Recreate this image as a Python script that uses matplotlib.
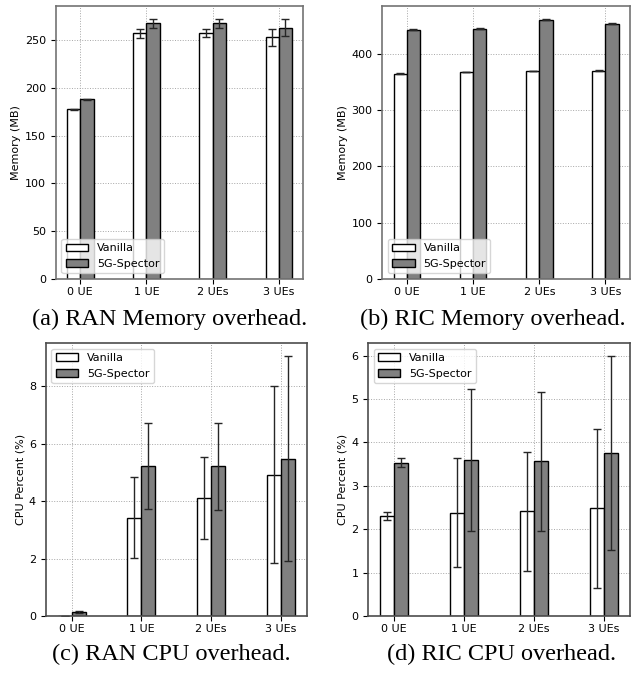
import numpy as np
import matplotlib.pyplot as plt

labels = ["0 UE", "1 UE", "2 UEs", "3 UEs"]

# RAN memory (MB)
ran_mem_van = [177.5, 256.7, 257.0, 252.8]
ran_mem_van_err = [0.4, 4.8, 4.0, 9.0]
ran_mem_spc = [187.8, 267.2, 267.2, 262.6]
ran_mem_spc_err = [0.4, 4.5, 4.5, 9.0]

# RIC memory (MB)
ric_mem_van = [364.4, 367.4, 369.2, 369.8]
ric_mem_van_err = [0.8, 0.8, 0.8, 0.8]
ric_mem_spc = [442.8, 444.0, 460.6, 452.9]
ric_mem_spc_err = [0.8, 0.8, 0.8, 0.8]

# RAN CPU (%)
ran_cpu_van = [0.01, 3.43, 4.12, 4.93]
ran_cpu_van_err = [0.005, 1.41, 1.42, 3.1]
ran_cpu_spc = [0.15, 5.22, 5.21, 5.48]
ran_cpu_spc_err = [0.04, 1.49, 1.52, 3.58]

# RIC CPU (%)
ric_cpu_van = [2.31, 2.38, 2.41, 2.48]
ric_cpu_van_err = [0.09, 1.26, 1.37, 1.83]
ric_cpu_spc = [3.53, 3.60, 3.56, 3.75]
ric_cpu_spc_err = [0.1, 1.64, 1.61, 2.24]

fig = plt.figure(figsize=(6.39, 6.73), dpi=100)

H = 0.4056
panels = [
    ([0.0873, 0.5854, 0.3873, H], ran_mem_van, ran_mem_van_err, ran_mem_spc, ran_mem_spc_err,
     "Memory (MB)", "lower left", "(a) RAN Memory overhead.", (0.266, 0.526), "0.45"),
    ([0.5983, 0.5854, 0.3876, H], ric_mem_van, ric_mem_van_err, ric_mem_spc, ric_mem_spc_err,
     "Memory (MB)", "lower left", "(b) RIC Memory overhead.", (0.772, 0.526), "0.45"),
    ([0.0716, 0.0847, 0.4084, H], ran_cpu_van, ran_cpu_van_err, ran_cpu_spc, ran_cpu_spc_err,
     "CPU Percent (%)", "upper left", "(c) RAN CPU overhead.", (0.268, 0.028), "0.3"),
    ([0.5763, 0.0847, 0.4096, H], ric_cpu_van, ric_cpu_van_err, ric_cpu_spc, ric_cpu_spc_err,
     "CPU Percent (%)", "upper left", "(d) RIC CPU overhead.", (0.785, 0.028), "0.3"),
]

x = np.arange(len(labels))
w = 0.2

for rect, van, van_err, spc, spc_err, ylab, loc, cap, cap_xy, spc_col in panels:
    ax = fig.add_axes(rect)
    ax.set_axisbelow(True)
    ax.bar(x - w / 2, van, w, yerr=van_err, color="white", edgecolor="black",
           linewidth=1, capsize=3, error_kw=dict(elinewidth=1, capthick=1, ecolor="0.15"),
           label="Vanilla")
    ax.bar(x + w / 2, spc, w, yerr=spc_err, color="grey", edgecolor="black",
           linewidth=1, capsize=3, error_kw=dict(elinewidth=1, capthick=1, ecolor="0.15"),
           label="5G-Spector")
    ax.set_xticks(x)
    ax.set_xticklabels(labels, fontsize=8)
    ax.tick_params(axis="y", labelsize=8)
    ax.tick_params(axis="x", pad=2.5)
    ax.set_ylabel(ylab, fontsize=8, labelpad=2.5)
    ax.grid(True, linestyle=":", color="0.65", linewidth=0.7)
    for s in ax.spines.values():
        s.set_color(spc_col)
        s.set_linewidth(1.2)
    ax.legend(loc=loc, fontsize=8)
    fig.text(cap_xy[0], cap_xy[1], cap, ha="center", va="center", fontsize=17.5,
             family="Liberation Serif")

fig.savefig("out.png", dpi=100)
